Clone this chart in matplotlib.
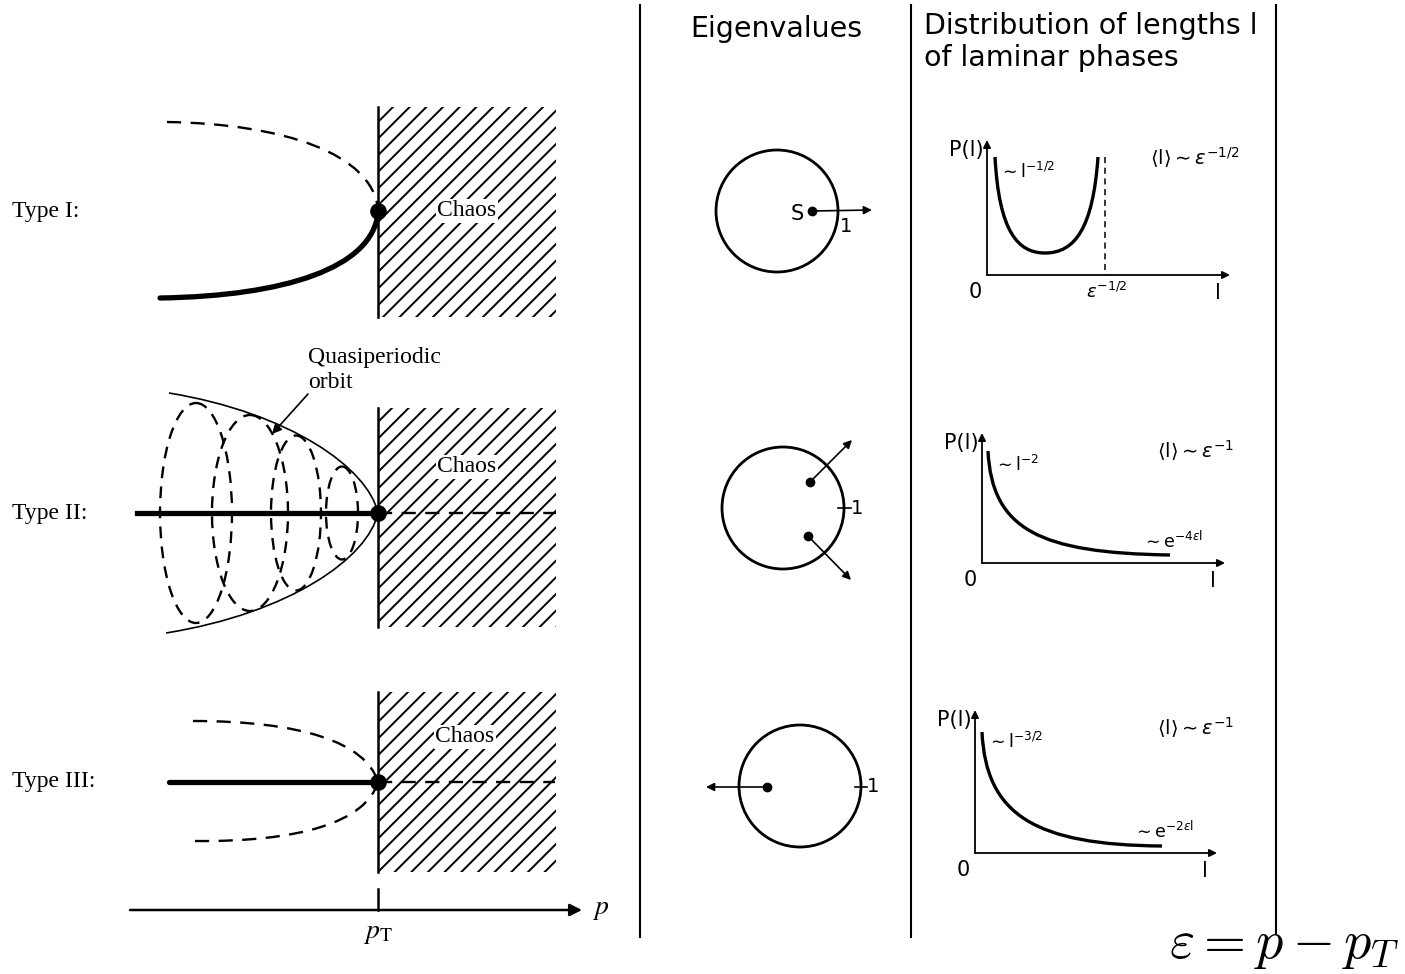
import numpy as np
import matplotlib.pyplot as plt
from matplotlib.path import Path
from matplotlib.patches import PathPatch, Rectangle, Ellipse, Circle

# ---- text content ----
type_names = ['Type I:', 'Type II:', 'Type III:']
header_eig = 'Eigenvalues'
header_dist = 'Distribution of lengths l\nof laminar phases'
mean_len = [r'$\langle \mathrm{l}\rangle \sim \varepsilon^{-1/2}$',
            r'$\langle \mathrm{l}\rangle \sim \varepsilon^{-1}$',
            r'$\langle \mathrm{l}\rangle \sim \varepsilon^{-1}$']
short_law = [r'$\sim \mathrm{l}^{-1/2}$', r'$\sim \mathrm{l}^{-2}$', r'$\sim \mathrm{l}^{-3/2}$']
long_law = [None, r'$\sim \mathrm{e}^{-4\varepsilon \mathrm{l}}$', r'$\sim \mathrm{e}^{-2\varepsilon \mathrm{l}}$']

# ---- geometry (pixel coordinates, y down) ----
row_y = [211, 513, 782]              # bifurcation point height of each row
p_T = 378
chaos_top = [107, 408, 692]
chaos_bot = [317, 627, 872]
chaos_right = 556

# type I branches (bezier control points)
t1_stable = [(160, 298), (285, 296), (372, 268), (p_T, 213)]
t1_unstable = [(167, 122), (285, 124), (372, 154), (p_T, 209)]
# type II envelope
t2_upper = [(169, 393), (290, 413), (368, 468), (p_T, 513)]
t2_lower = [(166, 633), (290, 613), (368, 558), (p_T, 513)]
t2_ell_x = [196, 250, 296, 342]
t2_ell_w = [72, 76, 50, 32]
t2_ell_h = [220, 196, 155, 93]
# type III branches
t3_upper = [(193, 721), (300, 721), (366, 742), (p_T, 782)]
t3_lower = [(195, 841), (300, 842), (366, 822), (p_T, 782)]

# eigenvalue circles
circ_c = [(777, 211), (783, 508), (800, 786)]
circ_r = 61

# laminar length distributions: axes origin, y-top, x-end
dist_origin = [(987, 275), (982, 563), (975, 853)]
dist_ytop = [140, 433, 710]
dist_xend = [1230, 1225, 1217]
dist_curves = [
    [(995, 157), (999, 232), (1018, 253), (1045, 253), (1075, 253), (1093, 228), (1098, 157)],
    [(988, 451), (992, 530), (1040, 553), (1170, 555)],
    [(982, 732), (986, 815), (1035, 845), (1162, 846)],
]

plt.rcParams['font.family'] = 'DejaVu Sans'
plt.rcParams['mathtext.fontset'] = 'dejavusans'
plt.rcParams['hatch.linewidth'] = 1.4

fig = plt.figure(figsize=(14.05, 9.74), dpi=100)
ax = fig.add_axes([0, 0, 1, 1])
ax.set_xlim(0, 1405)
ax.set_ylim(974, 0)
ax.axis('off')


def bez(pts, **kw):
    codes = [Path.MOVETO] + [Path.CURVE4] * (len(pts) - 1)
    ax.add_patch(PathPatch(Path(pts, codes), fill=False, **kw))


def arrow(p0, p1, lw=1.2, ms=12):
    ax.annotate('', xy=p1, xytext=p0,
                arrowprops=dict(arrowstyle='-|>', lw=lw, color='k', mutation_scale=ms,
                                shrinkA=0, shrinkB=0))


serif = 'Liberation Serif'
dash = (6, 4)

# ---- left panel ----
for i in range(3):
    ax.add_patch(Rectangle((p_T, chaos_top[i]), chaos_right - p_T, chaos_bot[i] - chaos_top[i],
                           facecolor='none', edgecolor='k', lw=0, hatch='//'))
    ax.plot([p_T, p_T], [chaos_top[i], chaos_bot[i]], color='k', lw=1.8)
    ax.text([467, 467, 465][i], [211, 467, 737][i], 'Chaos', family=serif, fontsize=17,
            ha='center', va='center', bbox=dict(facecolor='white', edgecolor='none', pad=1))
    ax.text(12, row_y[i], type_names[i], family=serif, fontsize=17, ha='left', va='center')

bez(t1_stable, lw=3.8, color='k', capstyle='round')
bez(t1_unstable, lw=1.7, color='k', linestyle=(0, dash))

bez(t2_upper, lw=1.2, color='k')
bez(t2_lower, lw=1.2, color='k')
for x, w, h in zip(t2_ell_x, t2_ell_w, t2_ell_h):
    ax.add_patch(Ellipse((x, row_y[1]), w, h, fill=False, lw=1.7, linestyle=(0, (5, 3.5))))
ax.plot([137, p_T], [row_y[1], row_y[1]], color='k', lw=3.8)
ax.plot([p_T, 556], [row_y[1], row_y[1]], color='k', lw=1.7, linestyle=(0, dash))
ax.text(308, 357, 'Quasiperiodic', family=serif, fontsize=17, ha='left', va='center')
ax.text(308, 382, 'orbit', family=serif, fontsize=17, ha='left', va='center')
arrow((308, 394), (272, 434), lw=1.2, ms=14)

bez(t3_upper, lw=1.7, color='k', linestyle=(0, dash))
bez(t3_lower, lw=1.7, color='k', linestyle=(0, dash))
ax.plot([169, p_T], [row_y[2], row_y[2]], color='k', lw=3.8, solid_capstyle='round')
ax.plot([p_T, 555], [row_y[2], row_y[2]], color='k', lw=1.7, linestyle=(0, dash))

for y in row_y:
    ax.plot(p_T, y, 'o', color='k', ms=11)

# p axis
arrow((130, 910), (582, 910), lw=1.8, ms=18)
ax.plot([p_T, p_T], [889, 910], color='k', lw=1.8)
ax.text(592, 908, r'$p$', math_fontfamily='stix', fontsize=20, ha='left', va='center')
ax.text(p_T, 932, r'$p_{\mathrm{T}}$', math_fontfamily='stix', fontsize=20, ha='center', va='center')

# ---- separators ----
ax.plot([640, 640], [5, 937], color='k', lw=1.5)
ax.plot([911, 911], [5, 937], color='k', lw=1.5)
ax.plot([1276, 1276], [5, 933], color='k', lw=1.5)

ax.text(690, 29, header_eig, fontsize=20.5, ha='left', va='center')
ax.text(924, 42, header_dist, fontsize=20.5, ha='left', va='center', linespacing=1.22)

# ---- eigenvalue circles ----
for c in circ_c:
    ax.add_patch(Circle(c, circ_r, fill=False, lw=2.0))

ax.plot(812, 211, 'o', color='k', ms=6)
arrow((812, 211), (872, 210))
ax.text(797, 214, 'S', fontsize=15, ha='center', va='center')
ax.text(846, 226, '1', fontsize=14, ha='center', va='center')

ax.plot([810, 808], [482, 536], 'o', color='k', ms=6, ls='none')
arrow((810, 482), (852, 440))
arrow((808, 536), (851, 580))
ax.plot([838, 851], [508, 508], color='k', lw=1.2)
ax.text(857, 509, '1', fontsize=14, ha='center', va='center')

ax.plot(767, 787, 'o', color='k', ms=6)
arrow((767, 787), (706, 787))
ax.plot([855, 867], [787, 787], color='k', lw=1.2)
ax.text(873, 787, '1', fontsize=14, ha='center', va='center')

# ---- laminar phase distributions ----
for i in range(3):
    x0, y0 = dist_origin[i]
    arrow((x0, y0), (dist_xend[i], y0), lw=1.3, ms=11)
    arrow((x0, y0), (x0, dist_ytop[i]), lw=1.3, ms=11)
    ax.text(x0 - 5, y0 + 17, '0', fontsize=15, ha='right', va='center')
    ax.text(dist_xend[i] - 12, y0 + 18, 'l', fontsize=15, ha='center', va='center')
    ax.text(x0 - 3, dist_ytop[i] + 10, 'P(l)', fontsize=15, ha='right', va='center')
    ax.text(1195, dist_ytop[i] + 18, mean_len[i], fontsize=14, ha='center', va='center')
    ax.text(x0 + 12, dist_ytop[i] + 32, short_law[i], fontsize=12.5, ha='left', va='center')
    if long_law[i]:
        ax.text([0, 1172, 1163][i], y0 - 22, long_law[i], fontsize=12.5, ha='center', va='center')

bez(dist_curves[0], lw=2.4, color='k')
bez(dist_curves[1], lw=2.4, color='k')
bez(dist_curves[2], lw=2.4, color='k')
ax.plot([1105, 1105], [157, 275], color='k', lw=1.1, linestyle=(0, (4, 3)))
ax.text(1107, 292, r'$\varepsilon^{-1/2}$', fontsize=13, ha='center', va='center')

# ---- definition of epsilon ----
ax.text(1400, 945, r'$\varepsilon = p - p_T$', math_fontfamily='cm', fontsize=39,
        ha='right', va='center')

fig.savefig('out.png', dpi=100)
